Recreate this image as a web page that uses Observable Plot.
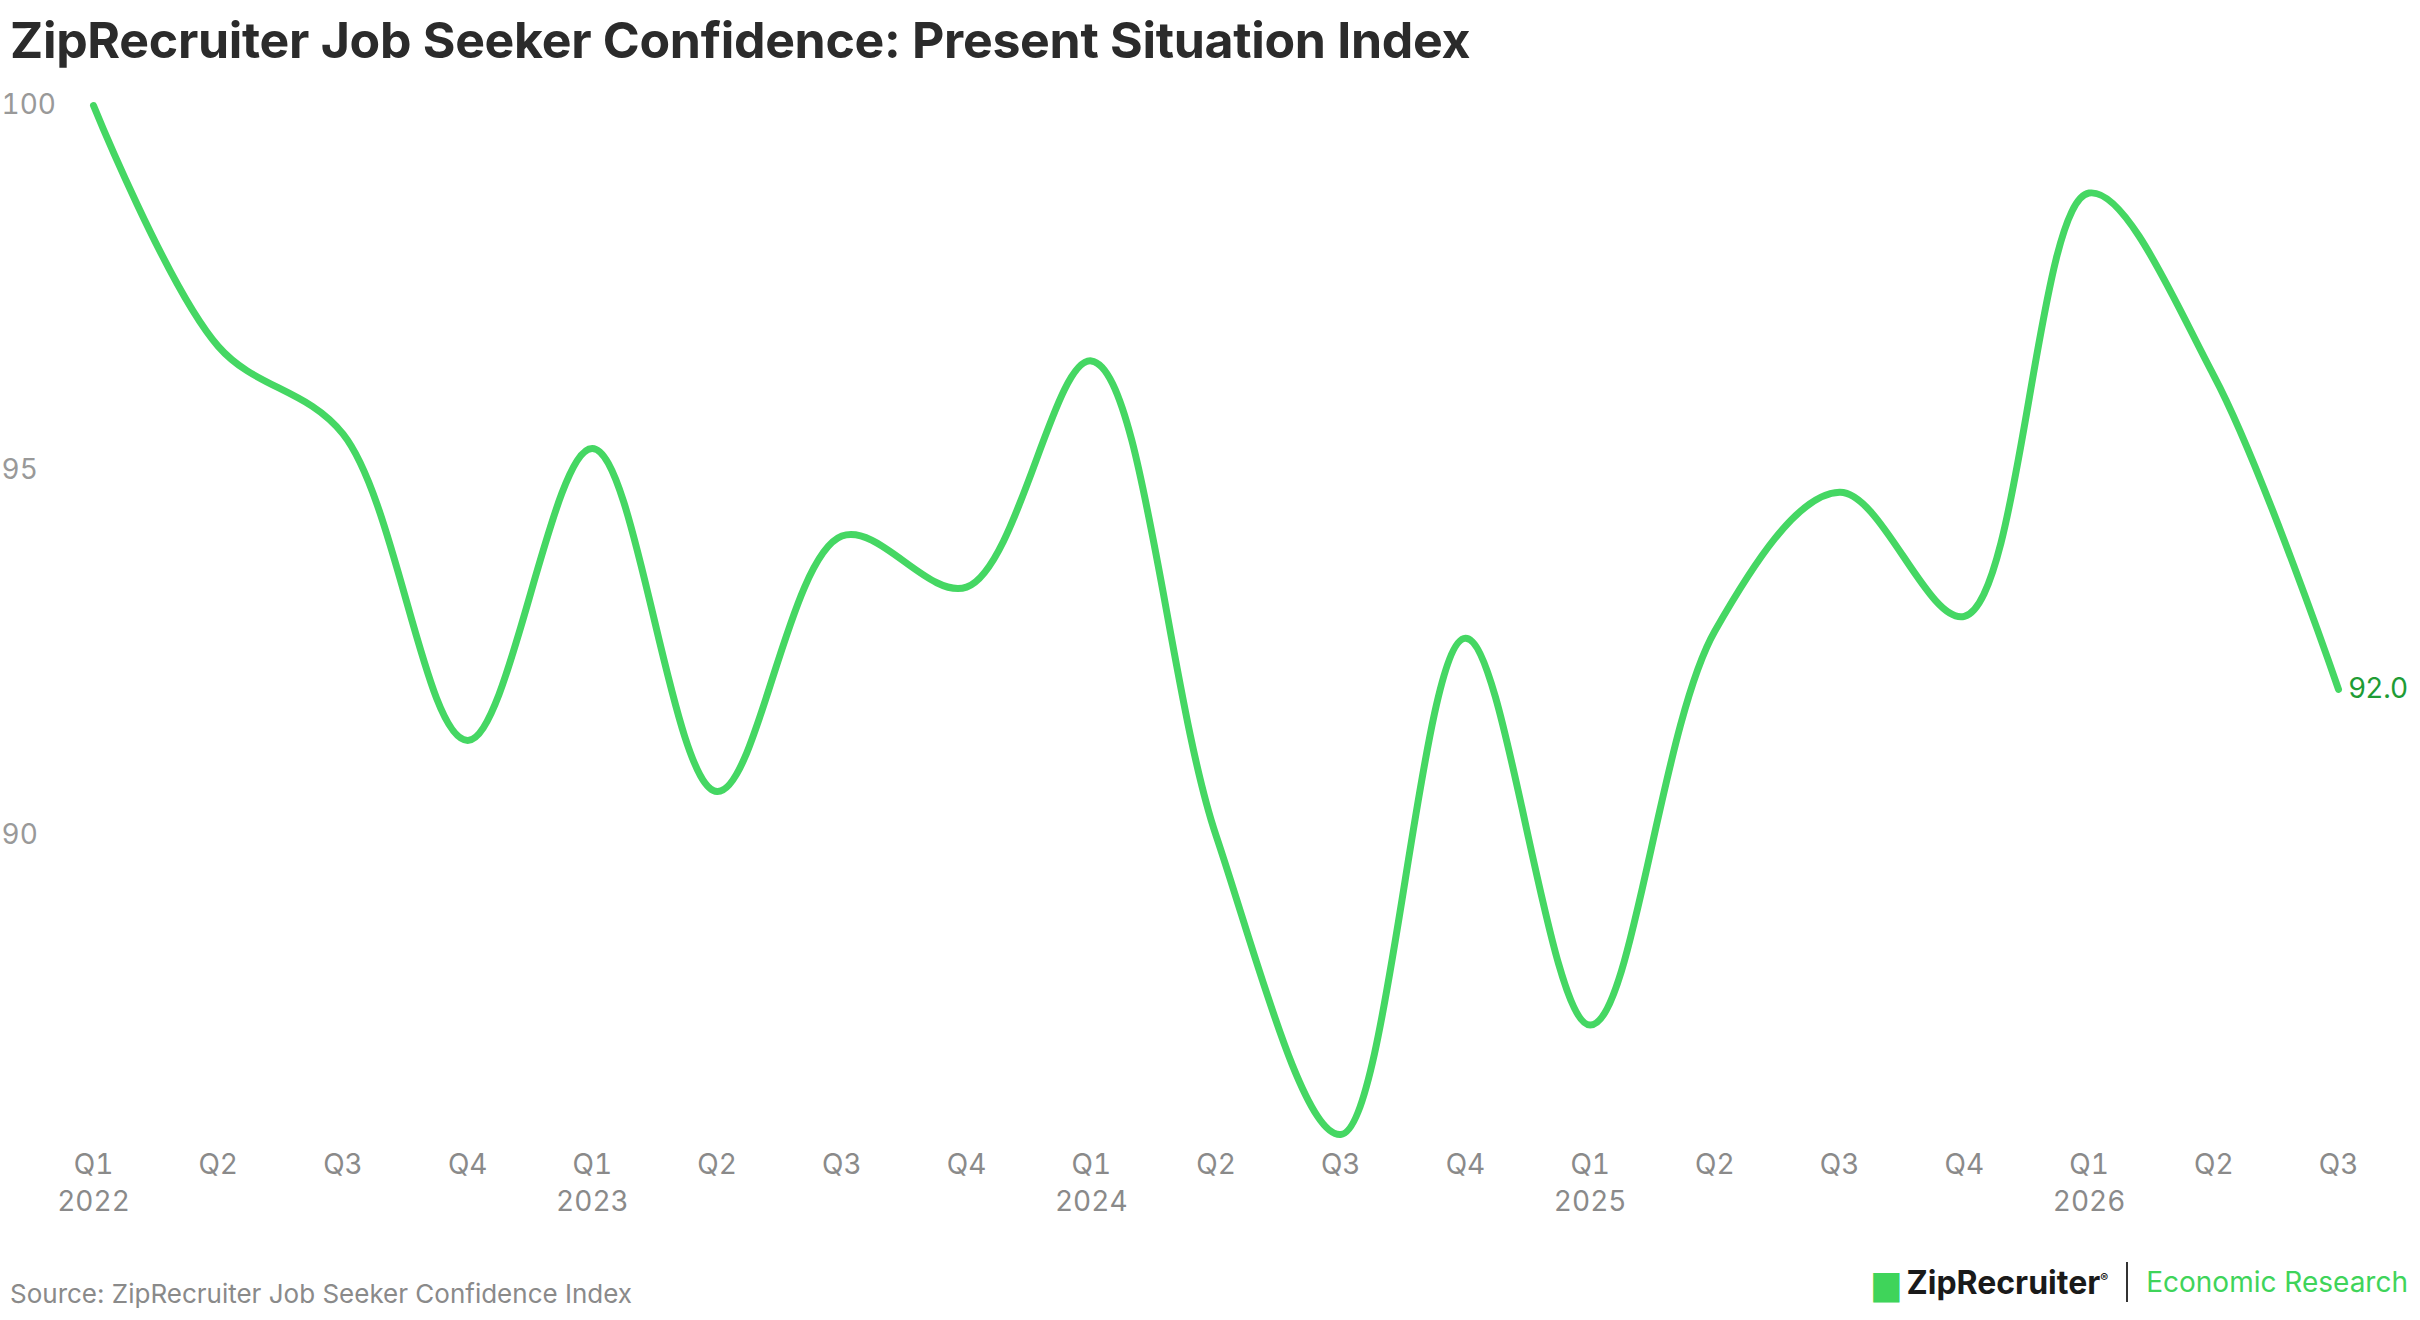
<!DOCTYPE html>
<html><head><meta charset="utf-8">
<script src="https://cdn.jsdelivr.net/npm/d3@7"></script>
<script src="https://cdn.jsdelivr.net/npm/@observablehq/plot@0.6"></script>
<style>
body{margin:0;background:#fff;font-family:Inter,"Noto Sans",sans-serif;width:2420px;height:1320px;position:relative;overflow:hidden}
#title{position:absolute;left:10px;top:10px;font-size:50px;font-weight:700;color:#2b2b2b;letter-spacing:-0.3px}
#chart{position:absolute;left:0;top:70px}
#src{position:absolute;left:10px;top:1278px;font-size:26px;color:#8a8a8a}
#logo{position:absolute;right:12px;top:1262px;font-size:28px;display:flex;align-items:center;gap:18px}
</style></head><body>
<div id="title">ZipRecruiter Job Seeker Confidence: Present Situation Index</div>
<div id="chart"></div>
<div id="src">Source: ZipRecruiter Job Seeker Confidence Index</div>
<div id="logo"><span style="font-weight:700;color:#1a1a1a;font-size:32px"><span style="color:#3fd45a">▆</span> ZipRecruiter<sup style="font-size:12px">®</sup></span><span style="width:2px;height:40px;background:#333"></span><span style="color:#3fd45a">Economic Research</span></div>
<script>
const quarters = ["Q1","Q2","Q3","Q4","Q1","Q2","Q3","Q4","Q1","Q2","Q3","Q4","Q1","Q2","Q3","Q4","Q1","Q2","Q3"];
const years = ["2022","","","","2023","","","","2024","","","","2025","","","","2026","",""];
const values = [100,96.7,95.5,91.3,95.3,90.6,94.1,93.4,96.5,90.0,85.9,92.7,87.4,92.8,94.7,93.0,98.8,96.3,92.0];
const data = values.map((v,i)=>({i,v}));
const last = data[data.length-1];
const chart = Plot.plot({
  width:2420, height:1170,
  marginLeft:93, marginRight:82, marginTop:35, marginBottom:106,
  style:{fontFamily:"Inter, 'Noto Sans', sans-serif", fontSize:"28px", color:"#8a8a8a"},
  x:{domain:[0,18], label:null},
  y:{domain:[85.9,100], label:null},
  marks:[
    Plot.axisX({ticks:d3.range(19), tickFormat:i=>quarters[i]+(years[i]?"\n"+years[i]:""), tickSize:0, tickPadding:14, lineHeight:1.3, fill:"#8a8a8a", fontSize:28, label:null}),
    Plot.axisY({ticks:[90,95,100], tickSize:0, textAnchor:"start", dx:-83, fill:"#999", fontSize:28, label:null}),
    Plot.line(data,{x:"i",y:"v",curve:"catmull-rom",stroke:"#45d763",strokeWidth:7}),
    Plot.text([last],{x:"i",y:"v",text:d=>d.v.toFixed(1),textAnchor:"start",dx:10,fill:"#1e9c35",fontSize:28})
  ]
});
document.getElementById("chart").appendChild(chart);
</script>
</body></html>
